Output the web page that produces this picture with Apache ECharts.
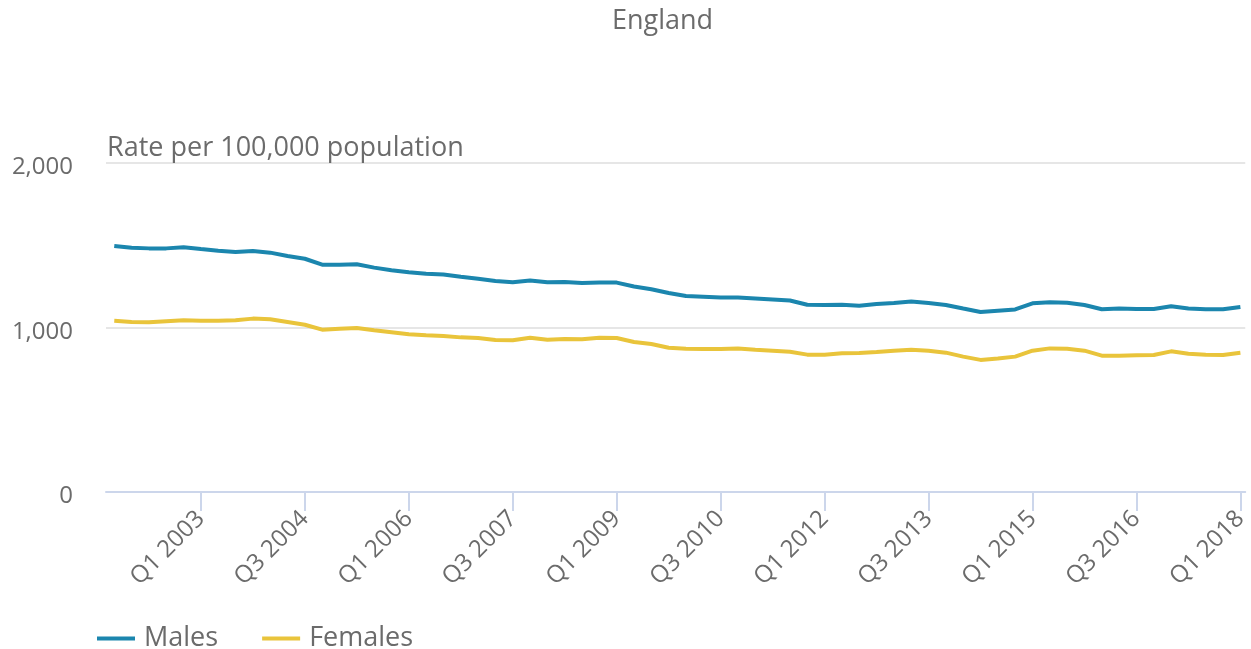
<!DOCTYPE html>
<html lang="en">
<head>
<meta charset="utf-8">
<title>England - Rate per 100,000 population</title>
<script src="https://cdn.jsdelivr.net/npm/echarts@6/dist/echarts.min.js"></script>
<style>
  html, body { margin: 0; padding: 0; background: #fff; }
  #chart { width: 1251px; height: 649px; }
</style>
</head>
<body>
<div id="chart"></div>
<script>
// quarters, Q4 2001 .. Q1 2018
const quarters = [
  'Q4 2001',
  'Q1 2002', 'Q2 2002', 'Q3 2002', 'Q4 2002',
  'Q1 2003', 'Q2 2003', 'Q3 2003', 'Q4 2003',
  'Q1 2004', 'Q2 2004', 'Q3 2004', 'Q4 2004',
  'Q1 2005', 'Q2 2005', 'Q3 2005', 'Q4 2005',
  'Q1 2006', 'Q2 2006', 'Q3 2006', 'Q4 2006',
  'Q1 2007', 'Q2 2007', 'Q3 2007', 'Q4 2007',
  'Q1 2008', 'Q2 2008', 'Q3 2008', 'Q4 2008',
  'Q1 2009', 'Q2 2009', 'Q3 2009', 'Q4 2009',
  'Q1 2010', 'Q2 2010', 'Q3 2010', 'Q4 2010',
  'Q1 2011', 'Q2 2011', 'Q3 2011', 'Q4 2011',
  'Q1 2012', 'Q2 2012', 'Q3 2012', 'Q4 2012',
  'Q1 2013', 'Q2 2013', 'Q3 2013', 'Q4 2013',
  'Q1 2014', 'Q2 2014', 'Q3 2014', 'Q4 2014',
  'Q1 2015', 'Q2 2015', 'Q3 2015', 'Q4 2015',
  'Q1 2016', 'Q2 2016', 'Q3 2016', 'Q4 2016',
  'Q1 2017', 'Q2 2017', 'Q3 2017', 'Q4 2017',
  'Q1 2018'
];

const males = [
  1496,
  1485, 1481, 1481, 1488,
  1477, 1467, 1459, 1465,
  1455, 1435, 1418, 1382,
  1382, 1384, 1364, 1348,
  1336, 1327, 1322, 1308,
  1296, 1283, 1275, 1286,
  1275, 1277, 1271, 1273,
  1273, 1249, 1233, 1210,
  1192, 1187, 1182, 1182,
  1176, 1170, 1164, 1138,
  1137, 1139, 1132, 1143,
  1149, 1158, 1149, 1137,
  1115, 1094, 1102, 1110,
  1147, 1154, 1151, 1137,
  1111, 1115, 1113, 1113,
  1129, 1115, 1111, 1111,
  1125
];

const females = [
  1041,
  1034, 1032, 1038, 1044,
  1041, 1041, 1044, 1054,
  1050, 1034, 1017, 987,
  993, 997, 983, 971,
  959, 953, 948, 940,
  936, 924, 922, 938,
  926, 930, 928, 938,
  936, 912, 900, 877,
  871, 869, 870, 873,
  865, 859, 853, 835,
  835, 843, 845, 851,
  859, 865, 859, 847,
  823, 803, 811, 823,
  859, 873, 871, 859,
  829, 829, 831, 833,
  855, 841, 835, 833,
  847
];

const tickLabels = [
  'Q1 2003', 'Q3 2004', 'Q1 2006', 'Q3 2007', 'Q1 2009', 'Q3 2010',
  'Q1 2012', 'Q3 2013', 'Q1 2015', 'Q3 2016', 'Q1 2018'
];

const textColor = '#6b6b6b';
const tickPositions = tickLabels.map(q => quarters.indexOf(q));

var chart = echarts.init(document.getElementById('chart'));
chart.setOption({
  animation: false,
  textStyle: { fontFamily: 'Open Sans' },
  title: [
    {
      text: 'England',
      left: 607,
      top: 3,
      textStyle: { fontFamily: 'Open Sans', fontSize: 27, fontWeight: 'normal', color: textColor }
    },
    {
      text: 'Rate per 100,000 population',
      left: 102,
      top: 130,
      textStyle: { fontFamily: 'Open Sans', fontSize: 27, fontWeight: 'normal', color: textColor }
    }
  ],
  legend: {
    left: 92,
    top: 620,
    icon: 'rect',
    itemWidth: 38,
    itemHeight: 4,
    itemGap: 44,
    textStyle: { fontFamily: 'Open Sans', fontSize: 27, color: textColor, padding: [0, 0, 0, 4] },
    data: ['Males', 'Females']
  },
  grid: { left: 106, right: 1, top: 163, bottom: 649 - 492 },
  xAxis: {
    type: 'value',
    min: -0.477,
    max: 65.28,
    splitLine: { show: false },
    axisLine: { show: true, lineStyle: { color: '#ccd6eb', width: 2 } },
    axisTick: {
      show: true,
      length: 19,
      customValues: tickPositions,
      lineStyle: { color: '#ccd6eb', width: 2 }
    },
    axisLabel: {
      customValues: tickPositions,
      rotate: 45,
      margin: 23,
      fontFamily: 'Open Sans',
      fontSize: 24,
      color: textColor,
      formatter: function (v) { return quarters[Math.round(v)]; }
    }
  },
  yAxis: {
    type: 'value',
    min: 0,
    max: 2000,
    interval: 1000,
    axisLine: { show: false },
    axisTick: { show: false },
    splitLine: { lineStyle: { color: '#e6e6e6', width: 2 } },
    axisLabel: {
      margin: 33,
      fontFamily: 'Open Sans',
      fontSize: 24,
      color: textColor,
      formatter: function (v) { return '{t|' + v.toLocaleString('en-GB') + '}'; },
      rich: {
        t: { fontFamily: 'Open Sans', fontSize: 24, color: textColor, padding: [9, 0, 0, 0] }
      }
    }
  },
  series: [
    {
      name: 'Males',
      type: 'line',
      showSymbol: false,
      data: males.map((v, i) => [i, v]),
      itemStyle: { color: '#1b86ae' },
      lineStyle: { color: '#1b86ae', width: 4 }
    },
    {
      name: 'Females',
      type: 'line',
      showSymbol: false,
      data: females.map((v, i) => [i, v]),
      itemStyle: { color: '#e9c43b' },
      lineStyle: { color: '#e9c43b', width: 4 }
    }
  ]
});
</script>
</body>
</html>
